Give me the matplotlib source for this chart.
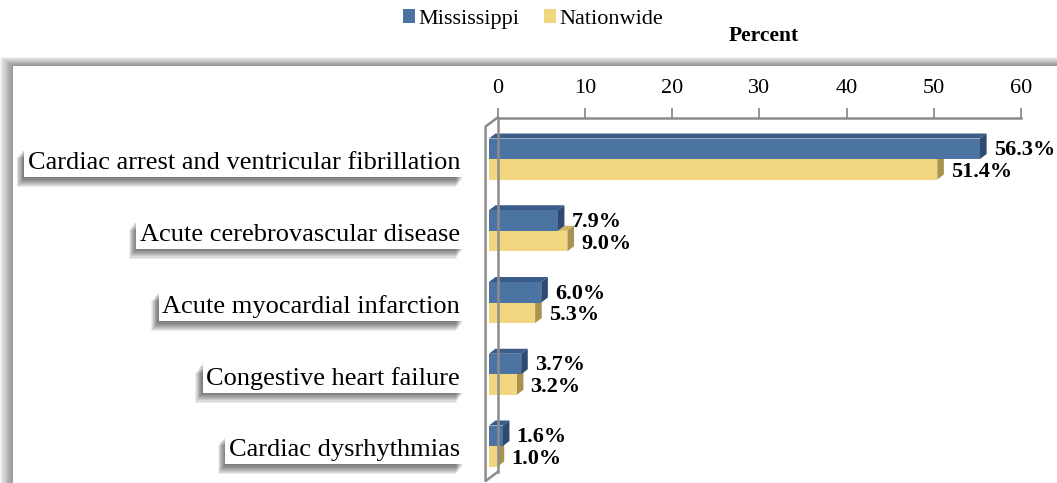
import matplotlib
matplotlib.use("Agg")
import matplotlib.pyplot as plt
from matplotlib.patches import Polygon, Rectangle, Patch
import matplotlib.patheffects as pe
from matplotlib.transforms import blended_transform_factory

# ---------------- data ----------------
categories = [
    "Cardiac arrest and ventricular fibrillation",
    "Acute cerebrovascular disease",
    "Acute myocardial infarction",
    "Congestive heart failure",
    "Cardiac dysrhythmias",
]
mississippi = [56.3, 7.9, 6.0, 3.7, 1.6]
nationwide = [51.4, 9.0, 5.3, 3.2, 1.0]
series_names = ["Mississippi", "Nationwide"]
x_ticks = [0, 10, 20, 30, 40, 50, 60]
axis_title = "Percent"

# ---------------- style ----------------
SERIF = ["Liberation Serif", "DejaVu Serif"]
plt.rcParams["font.family"] = SERIF

BLUE_FRONT, BLUE_TOP, BLUE_SIDE = "#4B74A2", "#3B5C88", "#2F4A70"
YEL_FRONT, YEL_TOP, YEL_SIDE = "#F2D680", "#CDB462", "#A89350"
AXIS_GRAY = "#8C8C8C"

W, H = 1057, 483
fig = plt.figure(figsize=(W / 100, H / 100), dpi=100)


def fx(px):
    return px / W


def fy(py):
    return 1 - py / H


# plot-area box with soft shadow (left / top)
box_l, box_t = 13, 66
for k in range(1, 12):
    fig.patches.append(Rectangle((fx(box_l - 1.2 * k), 0), 1, fy(box_t - 0.85 * k),
                                 transform=fig.transFigure, fc="k", ec="none",
                                 alpha=0.045, zorder=-3))
fig.patches.append(Rectangle((fx(box_l), 0), 1, fy(box_t), transform=fig.transFigure,
                             fc="white", ec="none", zorder=-2))

# ---------------- axes ----------------
ax_left_px, ax_right_px = 497.6, 1021.0
ax_top_px, ax_bot_px = 117.5, 472.0
cat_step_px = 71.75
cat0_px = 159.0
ax = fig.add_axes([fx(ax_left_px), fy(ax_bot_px),
                   (ax_right_px - ax_left_px) / W, (ax_bot_px - ax_top_px) / H])
ax.patch.set_visible(False)
ax.set_xlim(x_ticks[0], x_ticks[-1])
y_top = (ax_top_px - cat0_px) / cat_step_px
y_bot = (ax_bot_px - cat0_px) / cat_step_px
ax.set_ylim(y_bot, y_top)

for s in ["right", "bottom"]:
    ax.spines[s].set_visible(False)
for s in ["top", "left"]:
    ax.spines[s].set_color(AXIS_GRAY)
    ax.spines[s].set_linewidth(1.8)
ax.xaxis.tick_top()
ax.set_xticks(x_ticks)
ax.set_xticklabels([str(t) for t in x_ticks])
ax.tick_params(axis="x", colors=AXIS_GRAY, length=7, width=1.3, pad=7,
               labelsize=16, labelcolor="black")
ax.set_yticks([])

px_per_unit = (ax_right_px - ax_left_px) / (x_ticks[-1] - x_ticks[0])
# 3-D projection offsets
wall_dx = -12.0 / px_per_unit
wall_dy = 9.0 / cat_step_px
bar_x0 = -8.7 / px_per_unit
depth_dx = 6.6 / px_per_unit
depth_dy = -5.0 / cat_step_px
bar_h = 20.5 / cat_step_px

# front wall edge
ax.plot([0, wall_dx, wall_dx, 0],
        [y_top, y_top + wall_dy, y_bot + wall_dy, y_bot],
        color=AXIS_GRAY, lw=1.8, clip_on=False, zorder=1)


def bar3d(y0, y1, v, front, top, side):
    xe = v + bar_x0
    ax.add_patch(Polygon([(bar_x0, y0), (bar_x0 + depth_dx, y0 + depth_dy),
                          (xe + depth_dx, y0 + depth_dy), (xe, y0)],
                         closed=True, fc=top, ec="none", clip_on=False, zorder=2))
    ax.add_patch(Polygon([(xe, y0), (xe + depth_dx, y0 + depth_dy),
                          (xe + depth_dx, y1 + depth_dy), (xe, y1)],
                         closed=True, fc=side, ec="none", clip_on=False, zorder=2))
    ax.add_patch(Rectangle((bar_x0, y0), xe - bar_x0, y1 - y0, fc=front, ec="none",
                           clip_on=False, zorder=2))


label_gap = 7.0 / px_per_unit
for i, (m, n) in enumerate(zip(mississippi, nationwide)):
    bar3d(i, i + bar_h, n, YEL_FRONT, YEL_TOP, YEL_SIDE)
    bar3d(i - bar_h, i, m, BLUE_FRONT, BLUE_TOP, BLUE_SIDE)
    ax.text(m + bar_x0 + depth_dx + label_gap, i - bar_h / 2 + 0.02, f"{m:.1f}%",
            ha="left", va="center", fontsize=16, fontweight="bold", clip_on=False,
            zorder=3)
    ax.text(n + bar_x0 + depth_dx + label_gap, i + bar_h / 2 + 0.035, f"{n:.1f}%",
            ha="left", va="center", fontsize=16, fontweight="bold", clip_on=False,
            zorder=3)

# category labels in boxes with soft shadows
trans = blended_transform_factory(fig.transFigure, ax.transData)
shadow = [pe.SimplePatchShadow(offset=(-0.6 * k, -0.75 * k),
                               shadow_rgbFace="k", alpha=0.075) for k in range(1, 10)]
for i, cat in enumerate(categories):
    t = ax.text(fx(460), i + 4.0 / cat_step_px, cat, transform=trans, ha="right",
                va="center", fontsize=19, clip_on=False, zorder=3,
                bbox=dict(boxstyle="square,pad=0.13", fc="white", ec="none"))
    t.get_bbox_patch().set_path_effects(shadow + [pe.Normal()])

# legend and axis title
handles = [Patch(fc=BLUE_FRONT, ec="none"), Patch(fc=YEL_FRONT, ec="none")]
fig.legend(handles, series_names, loc="center", bbox_to_anchor=(fx(533), fy(19)),
           ncol=2, frameon=False, fontsize=16, handlelength=0.55, handleheight=0.55,
           handletextpad=0.15, columnspacing=1.1, borderpad=0)
fig.text(fx(764), fy(36), axis_title, ha="center", va="center", fontsize=15.5,
         fontweight="bold")

fig.savefig("out.png", dpi=100)
